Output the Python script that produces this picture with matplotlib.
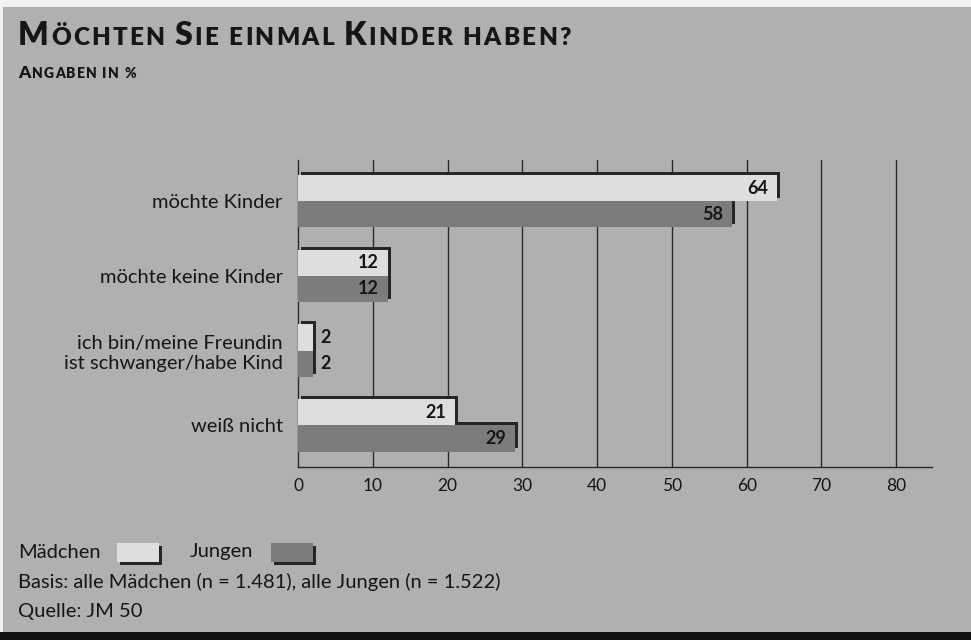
import matplotlib.pyplot as plt
import matplotlib.patheffects as pe
from matplotlib.patches import Rectangle
from matplotlib.offsetbox import TextArea, HPacker, AnchoredOffsetbox

plt.rcParams['font.family'] = ['Lato', 'DejaVu Sans']

# Daten
kategorien = ['möchte Kinder', 'möchte keine Kinder',
              'ich bin/meine Freundin\nist schwanger/habe Kind', 'weiß nicht']
maedchen = [64, 12, 2, 21]
jungen = [58, 12, 2, 29]
x_ticks = [0, 10, 20, 30, 40, 50, 60, 70, 80]

bg = '#b0b0b0'
hell = '#dedede'
dunkel = '#7c7c7c'
txt = '#161616'

fig = plt.figure(figsize=(9.71, 6.4), dpi=100, facecolor=bg)

# Rand des Scans
fig.patches.append(Rectangle((0, 1 - 7 / 640), 1, 7 / 640, transform=fig.transFigure,
                             facecolor='#f2f2f2', edgecolor='none', zorder=0))
fig.patches.append(Rectangle((0, 0), 3 / 971, 1, transform=fig.transFigure,
                             facecolor='#f2f2f2', edgecolor='none', zorder=0))
fig.patches.append(Rectangle((0, 0), 1, 8 / 640, transform=fig.transFigure,
                             facecolor='#111111', edgecolor='none', zorder=0))

ax = fig.add_axes([0.307, 0.270, 0.653, 0.480])
ax.set_facecolor('none')

schatten = [pe.SimplePatchShadow(offset=(2.2, 2.2), shadow_rgbFace='#262626', alpha=1.0),
            pe.Normal()]

pos = list(range(len(kategorien)))
h = 0.35
# erst Jungen, dann Mädchen (damit der Schatten oben verdeckt wird)
b_j = ax.barh([p + h / 2 for p in pos], jungen, height=h, color=dunkel, zorder=3)
b_m = ax.barh([p - h / 2 for p in pos], maedchen, height=h, color=hell, zorder=4)
for b in list(b_j) + list(b_m):
    b.set_path_effects(schatten)


def werte(vals, yoff):
    for p, v in zip(pos, vals):
        if v >= 5:
            ax.text(v - 1.2, p + yoff, str(v), ha='right', va='center', fontsize=13,
                    fontweight='bold', color=txt, zorder=6)
        else:
            ax.text(v + 1.0, p + yoff, str(v), ha='left', va='center', fontsize=13,
                    fontweight='bold', color=txt, zorder=6)


werte(maedchen, -h / 2)
werte(jungen, h / 2)

ax.set_xlim(0, 84.8)
ax.set_ylim(3.56, -0.55)
ax.set_xticks(x_ticks)
ax.set_xticklabels([str(t) for t in x_ticks], fontsize=12.5, color=txt)
ax.set_yticks(pos)
ax.set_yticklabels(kategorien, fontsize=14.5, color=txt, linespacing=1.2)
ax.tick_params(axis='x', length=0, pad=8)
ax.tick_params(axis='y', length=0, pad=11)
for t in ax.get_yticklabels():
    t.set_multialignment('right')

for t in x_ticks[1:]:
    ax.axvline(t, color='#2a2a2a', lw=1.0, zorder=1)

for s in ['top', 'right']:
    ax.spines[s].set_visible(False)
ax.spines['left'].set_color('#2a2a2a')
ax.spines['bottom'].set_color('#2a2a2a')
ax.spines['left'].set_linewidth(1.0)
ax.spines['bottom'].set_linewidth(1.0)


# Titel in Kapitälchen (mit etwas Sperrung)
def kapitaelchen(text, gross, klein, sperr, x, y):
    boxen = []
    anfang = True
    for ch in text:
        if ch == ' ':
            anfang = True
            boxen.append(TextArea('\u00a0', textprops=dict(fontsize=klein, fontweight='heavy')))
            continue
        size = gross if (anfang and ch.isupper()) else klein
        boxen.append(TextArea(ch.upper(), textprops=dict(fontsize=size,
                                                         fontweight='heavy', color=txt)))
        anfang = False
    pack = HPacker(children=boxen, align='baseline', pad=0, sep=sperr)
    ab = AnchoredOffsetbox(loc='lower left', child=pack, pad=0, frameon=False,
                           bbox_to_anchor=(x, y), bbox_transform=fig.transFigure,
                           borderpad=0)
    fig.add_artist(ab)


kapitaelchen('Möchten Sie einmal Kinder haben?', 23, 17.5, 1.6, 18 / 971, 1 - 50 / 640)
kapitaelchen('Angaben in %', 12.5, 10, 0.9, 18 / 971, 1 - 81 / 640)

# Legende und Fußnoten
fig.text(18 / 971, 1 - 552 / 640, 'Mädchen', fontsize=14.5, color=txt, va='center')
fig.text(190 / 971, 1 - 552 / 640, 'Jungen', fontsize=14.5, color=txt, va='center')
leg_schatten = [pe.SimplePatchShadow(offset=(2.2, -2.2), shadow_rgbFace='#262626', alpha=1.0),
                pe.Normal()]
for x0, c in [(117, hell), (271, dunkel)]:
    r = Rectangle((x0 / 971, 1 - 562 / 640), 42 / 971, 19 / 640, transform=fig.transFigure,
                  facecolor=c, edgecolor='none')
    r.set_path_effects(leg_schatten)
    fig.patches.append(r)

fig.text(18 / 971, 1 - 582 / 640, 'Basis: alle Mädchen (n = 1.481), alle Jungen (n = 1.522)',
         fontsize=14.5, color=txt, va='center')
fig.text(18 / 971, 1 - 611 / 640, 'Quelle: JM 50', fontsize=14.5, color=txt, va='center')

fig.savefig('out.png', dpi=100, facecolor=bg)
